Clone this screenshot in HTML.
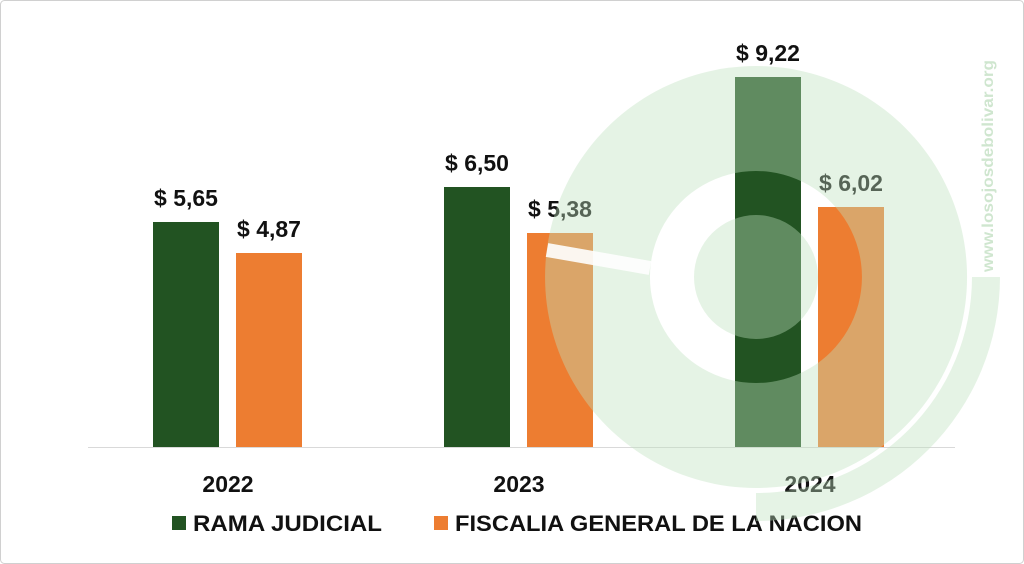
<!DOCTYPE html>
<html><head><meta charset="utf-8"><style>
html,body{margin:0;padding:0;background:#fff}
svg{display:block}
text{font-family:"Liberation Sans",sans-serif;font-weight:bold;fill:#111}
</style></head><body>
<svg width="1024" height="564" viewBox="0 0 1024 564" xmlns="http://www.w3.org/2000/svg">
<rect x="0.5" y="0.5" width="1023" height="563" rx="4" fill="#fff" stroke="#d0d0d0"/>
<line x1="88" y1="447.5" x2="955" y2="447.5" stroke="#d9d9d9" stroke-width="1"/>
<g>
<rect x="153" y="222" width="66" height="225" fill="#225322"/>
<rect x="236" y="253" width="66" height="194" fill="#ed7d31"/>
<rect x="444" y="187" width="66" height="260" fill="#225322"/>
<rect x="527" y="233" width="66" height="214" fill="#ed7d31"/>
<rect x="735" y="77" width="66" height="370" fill="#225322"/>
<rect x="818" y="207" width="66" height="240" fill="#ed7d31"/>
</g>
<g font-size="23" text-anchor="middle">
<text x="186" y="206">$ 5,65</text>
<text x="269" y="237">$ 4,87</text>
<text x="477" y="171">$ 6,50</text>
<text x="560" y="217">$ 5,38</text>
<text x="768" y="61">$ 9,22</text>
<text x="851" y="191">$ 6,02</text>
<text x="228" y="492">2022</text>
<text x="519" y="492">2023</text>
<text x="810" y="492">2024</text>
</g>
<rect x="172" y="516" width="14" height="14" fill="#225322"/>
<text x="193" y="531" font-size="22" textLength="189" lengthAdjust="spacingAndGlyphs">RAMA JUDICIAL</text>
<rect x="434" y="516" width="14" height="14" fill="#ed7d31"/>
<text x="455" y="531" font-size="22" textLength="407" lengthAdjust="spacingAndGlyphs">FISCALIA GENERAL DE LA NACION</text>
<g fill="rgb(190,225,190)" fill-opacity="0.4">
<circle cx="756" cy="277" r="62"/>
<path fill-rule="evenodd" d="M756 66 A211 211 0 1 0 756.1 66 Z M756 171 A106 106 0 1 1 755.9 171 Z"/>
<path d="M972 277 A216 216 0 0 1 756 493 L756 521 A244 244 0 0 0 1000 277 Z"/>
</g>
<path d="M547 250 L650 268" stroke="#fff" stroke-width="14" opacity="0.9"/>
<text x="0" y="0" transform="translate(993,272) rotate(-90)" font-size="16" style="fill:#cfe6cf" textLength="212" lengthAdjust="spacingAndGlyphs">www.losojosdebolivar.org</text>
</svg>
</body></html>
